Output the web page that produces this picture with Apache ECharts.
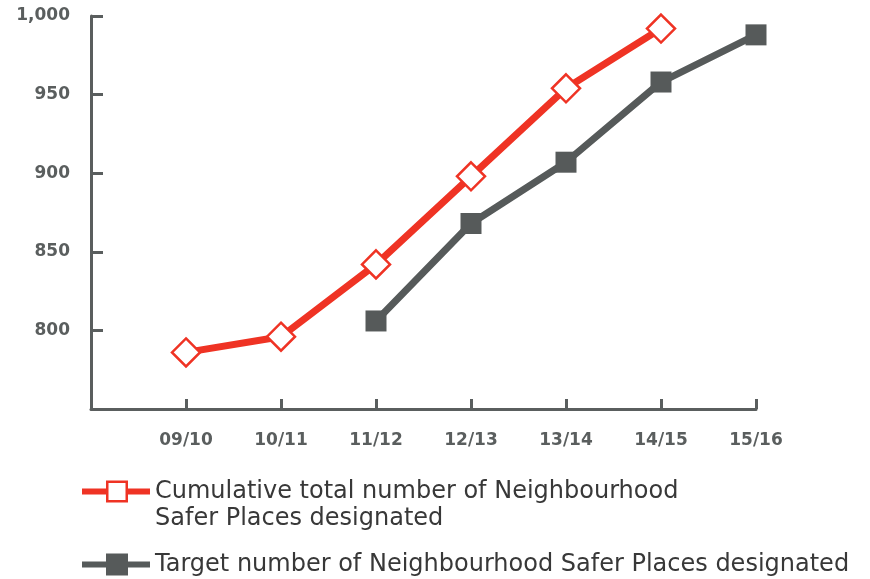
<!DOCTYPE html>
<html><head><meta charset="utf-8">
<script src="https://cdn.jsdelivr.net/npm/echarts@6/dist/echarts.min.js"></script>
<style>html,body{margin:0;padding:0;background:#fff}#c{width:870px;height:579px}</style>
</head><body><div id="c"></div>
<script>
const categories = ['', '09/10', '10/11', '11/12', '12/13', '13/14', '14/15', '15/16'];
const cumulative = [null, 786, 796, 842, 898, 954, 992, null];
const target = [null, null, null, 806, 868, 907, 958, 988];
const yTicks = [750, 800, 850, 900, 950, 1000];
const seriesNames = ['Cumulative total number of Neighbourhood\nSafer Places designated',
  'Target number of Neighbourhood Safer Places designated'];

const RED = '#ef3324', GRAY = '#565a5a', AXIS = '#5a5e5e';
const redIcon = 'path://M0,8H24V14H0Z M46,8H68V14H46Z M24,0H46V22H24Z M26.5,2.5V19.5H43.5V2.5Z';
const grayIcon = 'path://M0,8H24V14H0Z M46,8H68V14H46Z M24,0H46V22H24Z';
const legendText = {color: '#383838', fontSize: 24, fontFamily: 'DejaVu Sans', lineHeight: 27};

const chart = echarts.init(document.getElementById('c'), null, {renderer: 'canvas'});
chart.setOption({
  animation: false,
  grid: {left: 91, right: 114, top: 16, bottom: 170, containLabel: false},
  xAxis: {
    type: 'category', data: categories, boundaryGap: false,
    axisLine: {lineStyle: {color: AXIS, width: 3}},
    axisTick: {inside: true, length: 10, lineStyle: {color: AXIS, width: 3}, interval: 0},
    axisLabel: {color: AXIS, fontSize: 17, fontWeight: 'bold', fontFamily: 'DejaVu Sans', margin: 23, interval: 0}
  },
  yAxis: {
    type: 'value', min: yTicks[0], max: yTicks[yTicks.length - 1], interval: 50,
    splitLine: {show: false},
    axisLine: {show: true, lineStyle: {color: AXIS, width: 3}},
    axisTick: {show: true, inside: true, length: 12, lineStyle: {color: AXIS, width: 3}},
    axisLabel: {color: AXIS, fontSize: 17, fontWeight: 'bold', fontFamily: 'DejaVu Sans', margin: 21,
      formatter: v => v === yTicks[0] ? '' : (v >= 1000 ? v.toLocaleString('en-US') : String(v))}
  },
  legend: [
    {data: [{name: seriesNames[0], icon: redIcon, itemStyle: {color: RED, borderWidth: 0}}],
     left: 77, top: 446, itemWidth: 68, itemHeight: 22,
     formatter: n => '\n' + n,
     textStyle: legendText},
    {data: [{name: seriesNames[1], icon: grayIcon, itemStyle: {color: GRAY, borderWidth: 0}}],
     left: 77, top: 546, itemWidth: 68, itemHeight: 22,
     textStyle: legendText}
  ],
  series: [
    {name: seriesNames[0], type: 'line', data: cumulative, symbol: 'diamond', symbolSize: 28,
     lineStyle: {color: RED, width: 7}, itemStyle: {color: '#fff', borderColor: RED, borderWidth: 2.5},
     color: RED},
    {name: seriesNames[1], type: 'line', data: target, symbol: 'rect', symbolSize: 21,
     lineStyle: {color: GRAY, width: 7}, itemStyle: {color: GRAY, borderColor: GRAY, borderWidth: 0},
     color: GRAY}
  ]
});
</script></body></html>
